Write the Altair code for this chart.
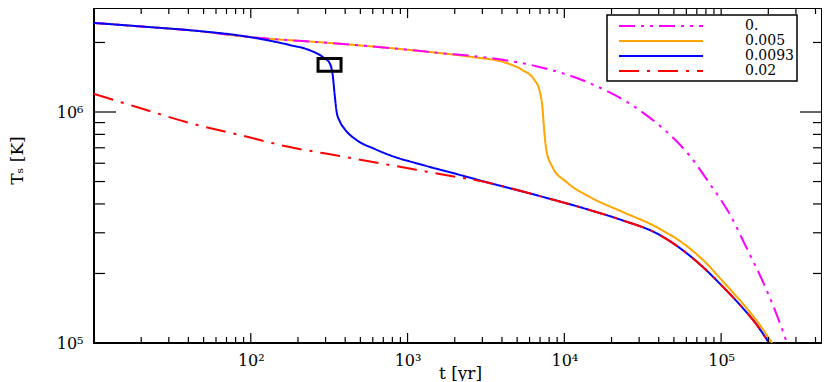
import altair as alt
import pandas as pd

# ---------------- data ----------------
series_names = ["0.", "0.005", "0.0093", "0.02"]
series_colors = ["#ff00ff", "#ffa500", "#0000ff", "#ff0000"]
series_dashes = [[16, 6, 3, 6, 3, 6], [1, 0], [1, 0], [20, 8, 3, 8]]
draw_order = ["0.005", "0.", "0.0093", "0.02"]

t_a = [10, 22.8, 40.8, 98.6, 318, 889, 1600, 3327, 6934, 14420, 30060, 48750,
       62520, 83950, 112500, 144200, 182400, 223900, 263000]
T_a = [2.43e6, 2.33e6, 2.26e6, 2.11e6, 1.99e6, 1.875e6, 1.80e6, 1.715e6, 1.567e6,
       1.336e6, 1.02e6, 7.80e5, 6.51e5, 4.93e5, 3.65e5, 2.61e5, 1.875e5, 1.35e5,
       1.0e5]

t_b = [10, 22.8, 40.8, 98.6, 318, 889, 1600, 2594, 4276, 5395, 6442, 6934, 7244,
       7464, 7677, 8395, 10300, 14420, 23390, 38550, 62520, 80170, 101400, 130300,
       167100, 211300]
T_b = [2.43e6, 2.33e6, 2.26e6, 2.11e6, 1.99e6, 1.875e6, 1.80e6, 1.73e6, 1.63e6,
       1.52e6, 1.376e6, 1.245e6, 1.051e6, 8.11e5, 6.84e5, 5.78e5, 4.98e5, 4.30e5,
       3.70e5, 3.18e5, 2.58e5, 2.22e5, 1.865e5, 1.543e5, 1.259e5, 1.0e5]

t_c = [10, 22.8, 40.8, 98.6, 177, 238, 288, 318, 333, 343, 353, 369, 397, 473, 617,
       767, 1247, 2051, 3327, 6934, 14420, 23390, 38550, 62520, 80170, 101400,
       130300, 167100, 202300]
T_c = [2.43e6, 2.33e6, 2.26e6, 2.11e6, 1.95e6, 1.85e6, 1.73e6, 1.63e6, 1.445e6,
       1.185e6, 1.0e6, 9.14e5, 8.44e5, 7.56e5, 6.92e5, 6.51e5, 5.90e5, 5.39e5,
       4.93e5, 4.33e5, 3.77e5, 3.40e5, 2.99e5, 2.40e5, 2.07e5, 1.766e5, 1.476e5,
       1.21e5, 1.0e5]

t_d = [10, 19.6, 40.8, 85.1, 177, 369, 767, 1600, 3327, 6934, 14420, 23390, 38550,
       62520, 80170, 101400, 130300, 167100, 202300]
T_d = [1.197e6, 1.041e6, 8.96e5, 7.95e5, 7.05e5, 6.45e5, 5.90e5, 5.39e5, 4.93e5,
       4.33e5, 3.77e5, 3.40e5, 2.99e5, 2.40e5, 2.07e5, 1.766e5, 1.476e5, 1.21e5, 1.0e5]

marker_t = [318]
marker_T = [1.6e6]

x_major = [100, 1000, 10000, 100000]
x_major_labels = ["10²", "10³", "10⁴", "10⁵"]
x_minor = [m * 10 ** e for e in range(1, 5) for m in range(2, 10)] + [200000, 300000, 400000]
y_major_labels_vals = [100000, 1000000]
y_major_labels = ["10⁵", "10⁶"]
y_major = [1000000]
y_minor = [m * 100000 for m in range(2, 10)] + [2000000]

x_domain = [10, 440000]
y_domain = [100000, 2820000]

W, H = 728, 335
FONT = "DejaVu Serif"

# ---------------- build ----------------
rows = []
for name, ts, Ts in zip(series_names, [t_a, t_b, t_c, t_d], [T_a, T_b, T_c, T_d]):
    for t, T in zip(ts, Ts):
        rows.append({"t": t, "T": T, "series": name})
df = pd.DataFrame(rows)

xs = alt.Scale(type="log", domain=x_domain, nice=False, zero=False)
ys = alt.Scale(type="log", domain=y_domain, nice=False, zero=False)


def label_expr(vals, labels):
    parts = " : ".join(f"datum.value == {v} ? '{l}'" for v, l in zip(vals, labels))
    return parts + " : ''"


x_axis = alt.Axis(values=x_major, labelExpr=label_expr(x_major, x_major_labels),
                  title="t [yr]", ticks=False, domain=False, grid=False,
                  labelFont=FONT, labelFontSize=16, labelPadding=9, labelColor="black",
                  titleFont=FONT, titleFontSize=17, titleFontWeight="normal",
                  titleColor="black", titleX=366, titleY=35, titleBaseline="alphabetic")
y_axis = alt.Axis(values=y_major_labels_vals,
                  labelExpr=label_expr(y_major_labels_vals, y_major_labels),
                  title="Tₛ [K]", ticks=False, domain=False, grid=False,
                  labelFont=FONT, labelFontSize=16, labelPadding=11, labelColor="black",
                  titleFont=FONT, titleFontSize=17, titleFontWeight="normal",
                  titleColor="black", titleX=-72, titleY=152, titleBaseline="alphabetic",
                  titleAlign="center")

X = lambda: alt.X("t:Q", scale=xs, axis=x_axis, title="t [yr]")
Y = lambda: alt.Y("T:Q", scale=ys, axis=y_axis, title="Tₛ [K]")

leg = alt.Legend(title=None)
color = alt.Color("series:N", scale=alt.Scale(domain=series_names, range=series_colors),
                  legend=leg)
dash = alt.StrokeDash("series:N", scale=alt.Scale(domain=series_names, range=series_dashes),
                      legend=leg)

line_layers = []
for name in draw_order:
    line_layers.append(
        alt.Chart(df).transform_filter(alt.datum.series == name)
        .mark_line(strokeWidth=2, interpolate="monotone", clip=True)
        .encode(x=X(), y=Y(), color=color, strokeDash=dash)
    )

tick_style = dict(color="black", strokeWidth=1.2)


def xticks(vals, length):
    d = pd.DataFrame({"t": vals})
    bottom = alt.Chart(d).mark_rule(**tick_style).encode(
        x=X(), y=alt.value(H), y2=alt.value(H - length))
    top = alt.Chart(d).mark_rule(**tick_style).encode(
        x=X(), y=alt.value(0), y2=alt.value(length))
    return [bottom, top]


def yticks(vals, left_len, right_len):
    d = pd.DataFrame({"T": vals})
    left = alt.Chart(d).mark_rule(**tick_style).encode(
        y=Y(), x=alt.value(0), x2=alt.value(left_len))
    right = alt.Chart(d).mark_rule(**tick_style).encode(
        y=Y(), x=alt.value(W), x2=alt.value(W - right_len))
    return [left, right]


tick_layers = (xticks(x_major, 10) + xticks(x_minor, 6)
               + yticks(y_major, 22, 22) + yticks(y_minor, 11, 9))

marker = alt.Chart(pd.DataFrame({"t": marker_t, "T": marker_T})).mark_point(
    shape="M-1,-0.55H1V0.55H-1Z", size=529, filled=False, stroke="black",
    strokeWidth=3, opacity=1
).encode(x=X(), y=Y())

chart = alt.layer(*line_layers, *tick_layers, marker).properties(
    width=W, height=H,
    autosize=alt.AutoSizeParams(type="none"),
    padding={"left": 86, "top": 0, "right": 0, "bottom": 38},
).configure_view(stroke="black", strokeWidth=2).configure_legend(
    orient="none", legendX=513, legendY=7,
    strokeColor="black", strokeWidth=1.5, fillColor="white", padding=3,
    symbolType="M-6,0H6", symbolSize=196, symbolStrokeWidth=2, symbolOffset=43,
    labelOffset=76, labelFont=FONT, labelFontSize=14, labelColor="black",
    rowPadding=0,
)

chart.save("out.html", embed_options={"renderer": "svg", "actions": False})
